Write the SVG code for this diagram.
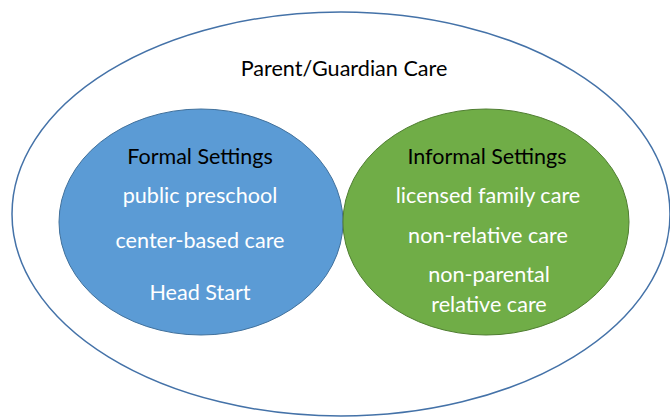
<svg xmlns="http://www.w3.org/2000/svg" width="670" height="417" viewBox="0 0 670 417">
<style>
text{font-family:Lato,"Open Sans","DejaVu Sans",sans-serif;text-anchor:middle}
.t{font-size:21.6px;fill:#000}
.h{font-size:21.5px;fill:#000}
.w{font-size:21.6px;fill:#fff}
</style>
<rect width="670" height="417" fill="#fff"/>
<g id="outer">
<ellipse cx="341" cy="214" rx="329" ry="202" fill="none" stroke="#4472A8" stroke-width="1.5"/>
<text class="t" x="344" y="76">Parent/Guardian Care</text>
</g>
<g id="formal">
<ellipse cx="201" cy="222" rx="142" ry="113" fill="#5B9BD5" stroke="#41719C" stroke-width="1"/>
<text class="h" x="200" y="164">Formal Settings</text>
<text class="w" x="200" y="203">public preschool</text>
<text class="w" x="200" y="248">center-based care</text>
<text class="w" x="200" y="300">Head Start</text>
</g>
<g id="informal">
<ellipse cx="486" cy="222" rx="143" ry="113" fill="#70AD47" stroke="#507E32" stroke-width="1"/>
<text class="h" x="487" y="164">Informal Settings</text>
<text class="w" x="488" y="203">licensed family care</text>
<text class="w" x="488" y="243">non-relative care</text>
<text class="w" x="489" y="282">non-parental</text>
<text class="w" x="489" y="312">relative care</text>
</g>
<g id="connectors"></g>
</svg>
